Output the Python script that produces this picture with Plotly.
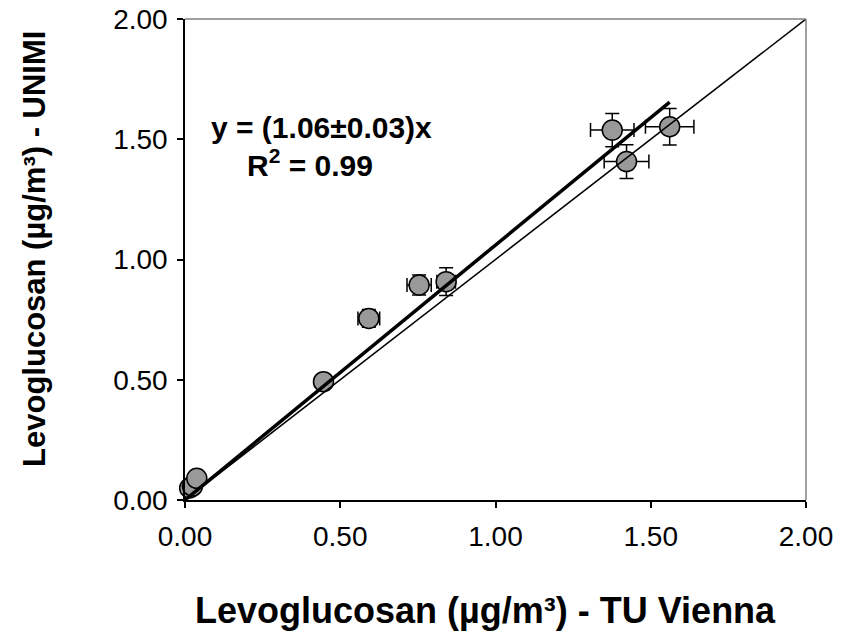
import plotly.graph_objects as go

# TU Vienna (x) vs UNIMI (y) levoglucosan, µg/m³
tu_vienna = [0.015, 0.024, 0.038, 0.446, 0.592, 0.754, 0.841, 1.376, 1.422, 1.561]
unimi     = [0.050, 0.058, 0.090, 0.492, 0.755, 0.894, 0.908, 1.538, 1.407, 1.552]
err_x     = [0.005, 0.005, 0.005, 0.015, 0.035, 0.039, 0.030, 0.070, 0.072, 0.078]
err_y     = [0.005, 0.005, 0.005, 0.015, 0.037, 0.042, 0.058, 0.069, 0.070, 0.076]

slope = 1.06
slope_err = 0.03
r2 = 0.99

axis_ticks = [0.0, 0.5, 1.0, 1.5, 2.0]
tick_text = ["0.00", "0.50", "1.00", "1.50", "2.00"]

FONT = "Liberation Sans, Arial, sans-serif"

fig = go.Figure()

fig.add_trace(go.Scatter(
    x=tu_vienna, y=unimi, mode="markers", cliponaxis=False,
    marker=dict(size=20, color="#999999", line=dict(color="black", width=1.5)),
    error_x=dict(type="data", array=err_x, color="black", thickness=1.5, width=7),
    error_y=dict(type="data", array=err_y, color="black", thickness=1.5, width=7),
    showlegend=False, hoverinfo="x+y",
))

# 1:1 line
fig.add_trace(go.Scatter(
    x=[axis_ticks[0], axis_ticks[-1]], y=[axis_ticks[0], axis_ticks[-1]],
    mode="lines", line=dict(color="black", width=1.5), showlegend=False,
))

# regression line through origin
xmax = max(tu_vienna)
fig.add_trace(go.Scatter(
    x=[0, xmax], y=[0, slope * xmax],
    mode="lines", line=dict(color="black", width=3.5), showlegend=False,
))

fig.add_annotation(
    x=0.44, y=1.55, xref="x", yref="y", xanchor="center", yanchor="middle",
    text=f"<b>y = ({slope:.2f}±{slope_err:.2f})x</b>", showarrow=False,
    font=dict(family=FONT, size=30, color="black"),
)
fig.add_annotation(
    x=0.403, y=1.40, xref="x", yref="y", xanchor="center", yanchor="middle",
    text=f"<b>R<sup>2</sup> = {r2:.2f}</b>", showarrow=False,
    font=dict(family=FONT, size=30, color="black"),
)

# axis titles
fig.add_annotation(
    x=0.4847, y=-0.2287, xref="paper", yref="paper", xanchor="center", yanchor="middle",
    text="<b>Levoglucosan (µg/m³) - TU Vienna</b>", showarrow=False,
    font=dict(family=FONT, size=36, color="black"),
)
fig.add_annotation(
    x=-0.2415, y=0.522, xref="paper", yref="paper", xanchor="center", yanchor="middle",
    text="<b>Levoglucosan (µg/m³) - UNIMI</b>", showarrow=False, textangle=-90,
    font=dict(family=FONT, size=31, color="black"),
)

# gray frame on top and right
fig.add_shape(type="line", xref="paper", yref="paper", x0=0, x1=1, y0=1, y1=1,
              line=dict(color="#808080", width=1.5))
fig.add_shape(type="line", xref="paper", yref="paper", x0=1, x1=1, y0=0, y1=1,
              line=dict(color="#808080", width=1.5))

fig.update_xaxes(
    range=[0, 2], tickvals=axis_ticks, ticktext=tick_text,
    showgrid=False, zeroline=False, showline=True, linecolor="black", linewidth=1.5,
    ticks="outside", ticklen=6, tickcolor="black", tickwidth=1.5,
    tickfont=dict(family=FONT, size=28, color="black"), ticklabelstandoff=5,
)
fig.update_yaxes(
    range=[0, 2], tickvals=axis_ticks, ticktext=tick_text,
    showgrid=False, zeroline=False, showline=True, linecolor="black", linewidth=1.5,
    ticks="outside", ticklen=6, tickcolor="black", tickwidth=1.5,
    tickfont=dict(family=FONT, size=28, color="black"), ticklabelstandoff=4,
)

fig.update_layout(
    width=851, height=642,
    margin=dict(l=185, r=45, t=19, b=142, autoexpand=False),
    paper_bgcolor="white", plot_bgcolor="white",
)

fig.write_html("out.html")
